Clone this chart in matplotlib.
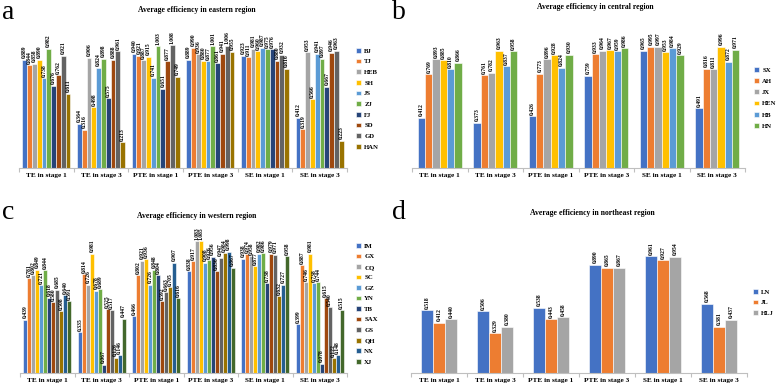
import matplotlib
matplotlib.use("Agg")
import matplotlib.pyplot as plt
import numpy as np

W, H = 777, 386
FONT = "Liberation Serif"

categories = ["TE in stage 1", "TE in stage 3", "PTE in stage 1", "PTE in stage 3",
              "SE in stage 1", "SE in stage 3"]

# ---- Eastern region ----
east_names = ["BJ", "TJ", "HEB", "SH", "JS", "ZJ", "FJ", "SD", "GD", "HAN"]
east_values = [
    [0.889, 0.364, 0.940, 0.889, 0.923, 0.412],  # BJ
    [0.844, 0.316, 0.921, 0.990, 0.911, 0.319],  # TJ
    [0.858, 0.906, 0.887, 0.936, 0.981, 0.953],  # HEB
    [0.890, 0.498, 0.915, 0.880, 0.960, 0.566],  # SH
    [0.738, 0.824, 0.741, 0.877, 0.987, 0.941],  # JS
    [0.982, 0.898, 1.003, 1.001, 0.975, 0.897],  # ZJ
    [0.676, 0.575, 0.651, 0.861, 0.976, 0.667],  # FJ
    [0.762, 0.888, 0.877, 0.941, 0.880, 0.946],  # SD
    [0.921, 0.961, 1.008, 1.006, 0.932, 0.963],  # GD
    [0.611, 0.213, 0.749, 0.955, 0.816, 0.223],  # HAN
]

# ---- Central region ----
central_names = ["SX", "AH", "JX", "HEN", "HB", "HN"]
central_values = [
    [0.412, 0.373, 0.426, 0.759, 0.965, 0.491],  # SX
    [0.769, 0.761, 0.773, 0.933, 0.995, 0.816],  # AH
    [0.893, 0.782, 0.896, 0.964, 0.997, 0.811],  # JX
    [0.885, 0.963, 0.928, 0.967, 0.953, 0.996],  # HEN
    [0.810, 0.837, 0.824, 0.959, 0.984, 0.872],  # HB
    [0.866, 0.958, 0.930, 0.986, 0.929, 0.971],  # HN
]

# ---- Western region ----
west_names = ["IM", "GX", "CQ", "SC", "GZ", "YN", "TB", "SAX", "GS", "QH", "NX", "XJ"]
west_values = [
    [0.439, 0.335, 0.466, 0.838, 0.938, 0.399],  # IM
    [0.781, 0.814, 0.802, 0.917, 0.974, 0.887],  # GX
    [0.802, 0.726, 0.921, 1.083, 0.958, 0.746],  # CQ
    [0.849, 0.981, 0.936, 1.085, 0.877, 0.981],  # SC
    [0.721, 0.678, 0.726, 0.908, 0.982, 0.738],  # GZ
    [0.844, 0.689, 0.848, 0.926, 0.986, 0.744],  # YN
    [0.618, 0.067, 0.804, 0.956, 0.738, 0.078],  # TB
    [0.580, 0.525, 0.592, 0.836, 0.979, 0.615],  # SAX
    [0.685, 0.517, 0.663, 0.947, 0.971, 0.540],  # GS
    [0.508, 0.126, 0.705, 0.984, 0.632, 0.122],  # QH
    [0.640, 0.146, 0.907, 0.998, 0.727, 0.148],  # NX
    [0.591, 0.447, 0.616, 0.867, 0.958, 0.515],  # XJ
]

# ---- Northeast region ----
ne_names = ["LN", "JL", "HLJ"]
ne_values = [
    [0.518, 0.506, 0.538, 0.890, 0.961, 0.568],  # LN
    [0.412, 0.329, 0.443, 0.865, 0.927, 0.381],  # JL
    [0.440, 0.380, 0.458, 0.867, 0.954, 0.437],  # HLJ
]

palette = ["#4472C4", "#ED7D31", "#A5A5A5", "#FFC000", "#5B9BD5", "#70AD47",
           "#264478", "#9E480E", "#636363", "#997300", "#255E91", "#43682B"]

fig = plt.figure(figsize=(W / 100, H / 100), dpi=100)


def px_axes(left, top_y, right, bottom_y):
    return fig.add_axes([left / W, 1 - bottom_y / H, (right - left) / W, (bottom_y - top_y) / H])


def panel(rect, names, values, frac, letter, letter_xy, title, title_xy, leg_xy, leg_space):
    ax = px_axes(*rect)
    n = len(names)
    x = np.arange(len(categories))
    bw = frac / n
    for i, (name, vals) in enumerate(zip(names, values)):
        pos = x - frac / 2 + bw * (i + 0.5)
        ax.bar(pos, vals, width=bw, color=palette[i], edgecolor="white",
               linewidth=0.4, label=name, zorder=2)
        for p, v in zip(pos, vals):
            ax.text(p, v + 0.012, f"{v:.3f}", rotation=90, ha="center", va="bottom",
                    fontsize=4.1, fontweight="bold", family=FONT, zorder=3)
    ax.set_xlim(-0.5, len(categories) - 0.5)
    ax.set_ylim(0, 1.2)
    for s in ["top", "right", "left"]:
        ax.spines[s].set_visible(False)
    ax.spines["bottom"].set_color("#BFBFBF")
    ax.spines["bottom"].set_linewidth(0.8)
    ax.set_yticks([])
    ax.set_xticks(np.arange(len(categories) + 1) - 0.5)
    ax.set_xticklabels([])
    ax.tick_params(axis="x", length=3, color="#BFBFBF", width=0.8)
    for i, c in enumerate(categories):
        ax.text(i, -0.045, c, ha="center", va="top", fontsize=5.2, fontweight="bold",
                family=FONT)
    fig.text(letter_xy[0] / W, 1 - letter_xy[1] / H, letter, fontsize=20, family=FONT,
             ha="left", va="baseline")
    fig.text(title_xy[0] / W, 1 - title_xy[1] / H, title, fontsize=5.6, fontweight="bold",
             family=FONT, ha="center", va="center")
    ax.legend(loc="upper left", bbox_to_anchor=(leg_xy[0] / W, 1 - leg_xy[1] / H),
              bbox_transform=fig.transFigure, frameon=False,
              prop={"family": FONT, "weight": "bold", "size": 4.9},
              handlelength=0.7, handleheight=0.7, handletextpad=0.5,
              labelspacing=leg_space, borderaxespad=0, borderpad=0)
    return ax


panel((19, 22, 347, 168), east_names, east_values, 0.88, "a", (2, 19),
      "Average efficiency in eastern region", (197, 10), (356, 48), 0.72)
panel((412, 22, 745, 168), central_names, central_values, 0.79, "b", (392, 19),
      "Average efficiency in central region", (595, 7), (754, 67), 0.8)
panel((20, 227, 347, 373), west_names, west_values, 0.88, "c", (2, 219),
      "Average efficiency in western region", (197, 216), (356, 243), 0.7)
panel((411, 227, 747, 373), ne_names, ne_values, 0.63, "d", (392, 219),
      "Average efficiency in northeast region", (592, 213), (753, 289), 0.72)

fig.savefig("out.png", dpi=100)
